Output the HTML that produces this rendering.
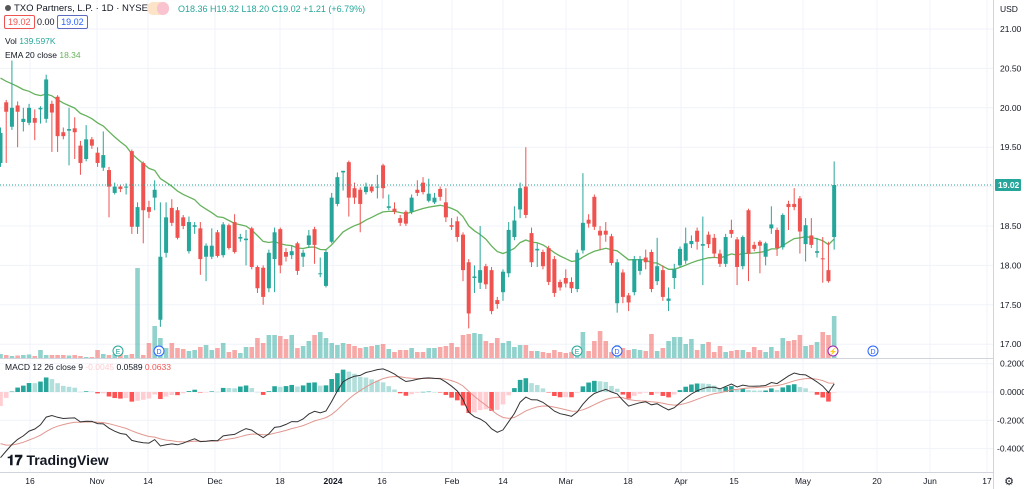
<!DOCTYPE html>
<html><head><meta charset="utf-8"><style>
body{margin:0;background:#fff;font-family:"Liberation Sans",Arial,sans-serif;}
#wrap{position:relative;width:1024px;height:489px;overflow:hidden;}
svg text{font-family:"Liberation Sans",Arial,sans-serif;}
</style></head><body>
<div id="wrap">
<svg id="chart" width="1024" height="489" xmlns="http://www.w3.org/2000/svg"></svg>
</div>
<script>
const opens=[19.30,20.07,19.76,20.03,19.82,19.81,19.87,19.98,19.86,20.05,20.14,19.69,19.71,19.74,19.52,19.35,19.60,19.43,19.24,19.21,18.92,19.00,18.99,19.45,18.49,19.30,18.74,18.86,17.31,18.16,18.73,18.70,18.61,18.18,18.49,18.47,18.11,18.11,18.42,18.13,18.51,18.55,18.34,18.32,18.47,17.98,17.97,17.71,18.08,18.46,18.17,18.13,18.28,18.11,18.26,18.46,17.89,17.74,18.30,18.78,19.18,19.31,18.98,18.96,18.93,19.00,18.99,19.27,18.73,18.72,18.60,18.68,18.68,18.96,19.05,18.82,18.80,18.97,18.80,18.51,18.56,18.39,18.04,17.84,17.78,17.99,17.94,17.56,17.66,17.90,18.36,18.71,19.00,18.41,18.19,18.17,18.22,18.08,17.79,17.84,17.79,17.70,18.19,18.58,18.87,18.44,18.44,18.37,17.52,17.91,17.62,17.66,17.93,18.10,18.17,17.80,17.94,17.55,17.84,18.00,18.06,18.27,18.44,18.25,18.39,18.35,18.15,18.02,18.45,18.33,17.99,18.70,18.26,18.30,18.11,18.47,18.45,18.23,18.78,18.78,18.85,18.27,18.38,18.16,18.09,17.94,18.36];
const closes=[19.68,19.95,20.00,19.95,19.86,20.00,19.81,20.00,20.36,19.94,19.64,19.64,19.73,19.69,19.30,19.60,19.52,19.30,19.40,19.00,19.00,18.97,19.00,18.49,18.74,18.70,18.68,18.96,18.11,18.61,18.54,18.35,18.50,18.55,18.51,18.08,18.25,18.25,18.12,18.52,18.22,18.17,18.36,18.34,17.98,17.71,17.60,18.16,18.42,18.00,18.11,18.18,17.93,18.16,18.38,18.26,17.90,18.17,18.86,19.12,19.20,18.86,18.86,18.78,19.00,18.94,19.00,18.98,18.75,18.68,18.54,18.53,18.86,18.92,18.93,18.91,18.86,18.87,18.61,18.49,18.36,17.94,17.39,17.86,17.94,17.76,17.42,17.51,17.92,18.45,18.57,18.98,18.64,18.04,18.21,17.99,17.79,17.65,17.72,17.77,17.71,18.16,18.54,18.53,18.49,18.38,18.39,18.03,18.04,17.60,17.53,18.08,18.08,18.04,17.70,17.99,17.60,17.58,17.95,18.21,18.28,18.31,18.30,18.27,18.27,18.15,18.02,18.36,18.40,17.98,18.36,18.15,18.21,18.25,18.28,18.52,18.22,18.64,18.74,18.74,18.43,18.51,18.26,18.18,18.08,17.80,19.02];
const highs=[19.75,20.10,20.60,20.08,20.00,20.05,19.98,20.02,20.42,20.09,20.16,19.75,20.00,19.88,19.58,19.78,19.63,19.50,19.70,19.25,19.05,19.02,19.04,19.47,18.80,19.32,18.82,19.08,18.80,18.80,18.84,18.74,18.64,18.62,18.55,18.55,18.28,18.47,18.45,18.55,18.53,18.65,18.40,18.45,18.49,18.00,18.00,18.20,18.48,18.48,18.22,18.25,18.30,18.20,18.45,18.49,18.10,18.20,18.92,19.18,19.20,19.33,19.05,18.99,19.05,19.03,19.15,19.29,18.90,18.80,18.64,18.70,18.90,19.08,19.12,19.10,18.92,19.00,18.98,18.60,18.62,18.42,18.08,18.00,18.50,18.02,17.98,17.60,17.95,18.55,18.75,19.05,19.50,18.48,18.28,18.20,18.25,18.12,17.82,17.95,17.85,18.20,19.17,18.65,18.90,18.50,18.55,18.40,18.08,17.95,17.65,18.12,18.12,18.20,18.20,18.35,18.00,17.72,18.02,18.24,18.48,18.38,18.48,18.62,18.43,18.40,18.20,18.40,18.58,18.36,18.38,18.72,18.30,18.32,18.30,18.75,18.48,18.66,18.82,18.98,18.88,18.60,18.60,18.35,18.36,18.30,19.32];
const lows=[19.25,19.30,19.72,19.50,19.70,19.78,19.59,19.80,19.81,19.44,19.44,19.60,19.27,19.35,19.15,19.32,19.48,19.25,19.20,18.61,18.90,18.93,18.90,18.40,18.40,18.28,18.60,18.70,17.22,18.10,18.50,18.33,18.46,18.15,18.40,17.88,17.80,18.08,18.10,18.10,18.20,18.15,18.30,18.00,17.95,17.65,17.50,17.66,17.66,17.90,18.05,18.08,17.88,17.98,18.22,18.02,17.85,17.72,18.28,18.75,18.95,18.62,18.78,18.42,18.90,18.92,18.85,18.85,18.70,18.65,18.50,18.50,18.65,18.88,18.90,18.80,18.78,18.82,18.55,18.45,18.30,17.80,17.20,17.65,17.70,17.70,17.38,17.45,17.55,17.85,18.32,18.60,18.60,17.98,17.98,17.95,17.75,17.60,17.68,17.72,17.65,17.66,18.15,18.48,18.45,18.20,18.30,18.00,17.40,17.52,17.42,17.62,17.88,17.95,17.66,17.75,17.55,17.42,17.70,17.98,18.02,18.22,18.20,17.75,18.22,18.10,17.98,17.98,18.35,17.75,17.95,17.80,18.18,17.90,18.00,18.40,18.12,18.20,18.45,18.70,18.15,18.05,18.22,18.10,17.78,17.78,18.20];
const volumes=[40,30,20,25,30,35,20,80,30,30,30,30,25,30,20,10,10,80,40,30,40,50,30,40,900,30,150,320,200,100,150,100,90,70,80,110,130,80,100,150,60,80,50,110,110,200,150,230,230,220,190,230,100,120,170,230,260,200,150,130,150,140,120,100,110,120,130,140,90,60,80,80,100,60,60,100,100,110,120,150,110,230,240,250,240,170,150,200,150,170,110,130,130,70,70,60,50,80,60,50,60,100,260,70,170,270,170,60,130,100,80,90,80,70,240,70,100,170,210,210,140,190,80,140,160,60,120,60,70,80,80,60,110,80,60,110,70,200,170,180,230,120,130,160,260,230,420];
const priceTicks=[21.00,20.50,20.00,19.50,18.50,18.00,17.50,17.00];
const macdTicks=[0.2,0,-0.2,-0.4];
const macdTickLabels=["0.2000","0.0000","-0.2000","-0.4000"];
const timeLabels=["16","Nov","14","Dec","18","2024","16","Feb","14","Mar","18","Apr","15","May","20","Jun","17"];
const timeLabelX=[30,97,148,215,280,333,382,452,503,566,628,681,734,803,877,930,987];

const NS="http://www.w3.org/2000/svg";
const svg=document.getElementById('chart');
function mk(tag,attrs,parent){const e=document.createElementNS(NS,tag);for(const k in attrs)e.setAttribute(k,attrs[k]);(parent||svg).appendChild(e);return e;}
const X0=0.5,DX=5.71;
const xOf=i=>X0+i*DX;
const yP=p=>29+(21-p)*78.8;
const yM=v=>392-v*141.5;
const yVol=v=>358-v*0.1;

const grid=mk('g',{});


timeLabelX.forEach(x=>mk('line',{x1:x,y1:0,x2:x,y2:472,stroke:'#f0f3fa','stroke-width':1},grid));
priceTicks.concat([19.0]).forEach(p=>mk('line',{x1:0,y1:yP(p),x2:993,y2:yP(p),stroke:'#f0f3fa'},grid));
macdTicks.forEach(v=>mk('line',{x1:0,y1:yM(v),x2:993,y2:yM(v),stroke:'#f0f3fa'},grid));

const vg=mk('g',{});


volumes.forEach((v,i)=>{
  const up=closes[i]>=opens[i];
  const r=mk('rect',{x:xOf(i)-2.3,y:yVol(v),width:4.6,height:358-yVol(v),fill:up?'rgba(38,166,154,0.5)':'rgba(239,83,80,0.5)'},vg);
  
  
});

let ema=20.45;const emaPts=[];
closes.forEach((c,i)=>{ema=ema+(c-ema)*2/21;emaPts.push(xOf(i).toFixed(1)+','+yP(ema).toFixed(1));});
const emaLine=mk('polyline',{points:emaPts.join(' '),fill:'none',stroke:'#66b25d','stroke-width':1.3});



const cg=mk('g',{});


opens.forEach((o,i)=>{
  const c=closes[i],up=c>=o,col=up?'#26a69a':'#ef5350',x=xOf(i);
  const w=mk('line',{x1:x,y1:yP(highs[i]),x2:x,y2:yP(lows[i]),stroke:col,'stroke-width':1},cg);
  
  
  const top=yP(Math.max(o,c)),bot=yP(Math.min(o,c));
  const b=mk('rect',{x:x-2,y:top,width:4,height:Math.max(1,bot-top),fill:col},cg);
  
  
});

const lp=mk('line',{x1:0,y1:yP(19.02),x2:993,y2:yP(19.02),stroke:'#26a69a','stroke-dasharray':'1,2','stroke-width':1});



let e12=19.81,e26=20.30,sig=-0.34;const mPts=[],sPts=[],hist=[];
closes.forEach((c,i)=>{e12+= (c-e12)*2/13;e26+=(c-e26)*2/27;const m=e12-e26;sig+=(m-sig)*2/10;mPts.push(xOf(i).toFixed(1)+','+yM(m).toFixed(1));sPts.push(xOf(i).toFixed(1)+','+yM(sig).toFixed(1));hist.push(m-sig);});
const hg=mk('g',{});


hist.forEach((h,i)=>{
  const prev=i>0?hist[i-1]:h;
  let col;
  if(h>=0)col=h>=prev?'#26a69a':'#b2dfdb';else col=h<prev?'#ff5252':'#ffcdd2';
  const y1=Math.min(yM(h),392),y2=Math.max(yM(h),392);
  const r=mk('rect',{x:xOf(i)-2.3,y:y1,width:4.6,height:Math.max(0.5,y2-y1),fill:col},hg);
  
  
});
const sl=mk('polyline',{points:sPts.join(' '),fill:'none',stroke:'#e0978f','stroke-width':1});


const ml=mk('polyline',{points:mPts.join(' '),fill:'none',stroke:'#333','stroke-width':1});



mk('line',{x1:0,y1:358.5,x2:1024,y2:358.5,stroke:'#d1d4dc'});
mk('line',{x1:0,y1:472.5,x2:1024,y2:472.5,stroke:'#d1d4dc'});
mk('line',{x1:993.5,y1:0,x2:993.5,y2:489,stroke:'#d1d4dc'});
mk('rect',{x:994,y:0,width:30,height:489,fill:'#fff'});

const ax=mk('g',{'font-size':'8.5',fill:'#131722'});


let t=mk('text',{x:1000,y:12},ax);t.textContent='USD';
priceTicks.forEach(p=>{const e=mk('text',{x:1000,y:yP(p)+3},ax);e.textContent=p.toFixed(2);});
macdTicks.forEach((v,i)=>{const e=mk('text',{x:v<0?997:1000,y:yM(v)+3},ax);e.textContent=macdTickLabels[i];});
const tag=mk('rect',{x:995,y:yP(19.02)-6,width:26,height:12,fill:'#26a69a',rx:1});


t=mk('text',{x:998,y:yP(19.02)+3,'font-size':'8.5',fill:'#fff','font-weight':'bold'});t.textContent='19.02';
const ta=mk('g',{'font-size':'8.5',fill:'#131722','text-anchor':'middle'});


timeLabels.forEach((l,i)=>{const e=mk('text',{x:timeLabelX[i],y:484,'font-weight':l==='2024'?'bold':'normal'},ta);e.textContent=l;});
t=mk('text',{x:1009,y:485,'font-size':'11',fill:'#131722','text-anchor':'middle'});t.textContent='⚙';


function marker(x,letter,color){const g=mk('g',{});


mk('circle',{cx:x,cy:351,r:5,fill:'#fff',stroke:color,'stroke-width':1},g);const e=mk('text',{x:x,y:354,'font-size':'7','text-anchor':'middle',fill:color},g);e.textContent=letter;}
marker(118,'E','#26a69a');marker(159,'D','#2962ff');marker(577,'E','#26a69a');marker(617,'D','#2962ff');marker(833,'⚡','#9c27b0');marker(873,'D','#2962ff');
</script>
<div style="position:absolute;left:5px;top:3px;font-size:9.5px;color:#131722;white-space:nowrap"><span style="display:inline-block;width:6px;height:6px;border-radius:50%;background:#555;margin-right:3px;vertical-align:middle"></span>TXO Partners, L.P. · 1D · NYSE</div>
<div style="position:absolute;left:147px;top:2px;width:22px;height:13px;border-radius:7px;background:#fde3c8"><span style="display:block;margin-left:10px;width:12px;height:13px;border-radius:7px;background:#f9c4d0"></span></div>
<div style="position:absolute;left:178px;top:4px;font-size:9px;color:#26a69a;white-space:nowrap">O18.36 H19.32 L18.20 C19.02 +1.21 (+6.79%)</div>
<div style="position:absolute;left:4px;top:17px;font-size:9px;white-space:nowrap"><span style="border:1px solid #ef5350;color:#ef5350;padding:1px 3px;border-radius:2px">19.02</span> <span style="color:#131722">0.00</span> <span style="border:1px solid #5c6bc0;color:#2962ff;padding:1px 3px;border-radius:2px">19.02</span></div>
<div style="position:absolute;left:5px;top:36px;font-size:8.5px;color:#131722">Vol <span style="color:#26a69a">139.597K</span></div>
<div style="position:absolute;left:5px;top:50px;font-size:8.5px;color:#131722">EMA 20 close <span style="color:#66b25d">18.34</span></div>
<div style="position:absolute;left:5px;top:362px;font-size:8.5px;color:#131722;white-space:nowrap">MACD 12 26 close 9 <span style="color:#ffcdd2">-0.0045</span> <span>0.0589</span> <span style="color:#ef5350">0.0633</span></div>
<div style="position:absolute;left:7px;top:452px;font-size:14px;font-weight:bold;color:#131722;white-space:nowrap">𝟏𝟕 TradingView</div>
</body></html>
